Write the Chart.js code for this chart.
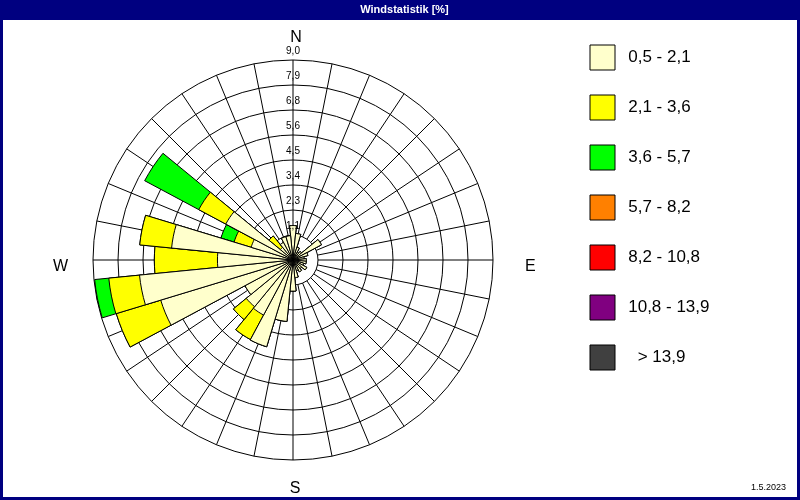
<!DOCTYPE html>
<html lang="de">
  <head>
    <meta charset="utf-8" />
    <title>Windstatistik</title>
    <style>
      body { margin: 0; background: #ffffff; }
      canvas { display: block; }
    </style>
  </head>
  <body>
    <canvas id="windrose" width="800" height="500"></canvas>
    <script src="https://cdn.jsdelivr.net/npm/chart.js"></script>
    <script>
      // 32 Richtungen, im Uhrzeigersinn ab Nord
      const directions = [
        "N", "NzO", "NNO", "NOzN", "NO", "NOzO", "ONO", "OzN",
        "O", "OzS", "OSO", "SOzO", "SO", "SOzS", "SSO", "SzO",
        "S", "SzW", "SSW", "SWzS", "SW", "SWzW", "WSW", "WzS",
        "W", "WzN", "WNW", "NWzW", "NW", "NWzN", "NNW", "NzW",
      ];

      const classLabels = ["0,5 - 2,1", "2,1 - 3,6", "3,6 - 5,7", "5,7 - 8,2", "8,2 - 10,8", "10,8 - 13,9", "  > 13,9"];
      const classColors = ["#ffffcc", "#ffff00", "#00ff00", "#ff8000", "#ff0000", "#800080", "#404040"];

      // Anteil in % je Richtung und Klasse (hoehere Klassen ohne Werte)
      const speed05to21 = [
        1.55, 1.2, 0.6, 0.4, 0.5, 1.45, 0.7, 0.5,
        0.6, 0.6, 0.5, 0.7, 0.5, 0.6, 0.5, 0.8,
        1.4, 2.78, 4.08, 2.81, 2.72, 2.45, 6.22, 6.94,
        3.4, 5.49, 1.97, 3.43, 0.74, 0.9, 1.1, 1.1,
      ];
      const speed21to36 = [
        0, 0, 0, 0, 0, 0, 0, 0,
        0, 0, 0, 0, 0, 0, 0, 0,
        0, 0, 0, 1.25, 0.75, 0, 2.09, 1.39,
        2.84, 1.44, 0.8, 1.38, 0.66, 0, 0, 0,
      ];
      const speed36to57 = [
        0, 0, 0, 0, 0, 0, 0, 0,
        0, 0, 0, 0, 0, 0, 0, 0,
        0, 0, 0, 0, 0, 0, 0, 0.64,
        0, 0, 0.62, 2.76, 0, 0, 0, 0,
      ];

      const ringValues = [1.125, 2.25, 3.375, 4.5, 5.625, 6.75, 7.875, 9];
      const ringLabels = ["1,1", "2,3", "3,4", "4,5", "5,6", "6,8", "7,9", "9,0"];
      const compassLabels = ["N", "E", "S", "W"];
      const dateLabel = "1.5.2023";

      // Sektoren aufeinander stapeln: jede Klasse beginnt am Ende der vorigen
      let series = [speed05to21, speed21to36, speed36to57];
      let running = directions.map(() => 0);
      let datasets = series.map(function (values, k) {
        running = running.map((sum, i) => sum + values[i]);
        return {
          label: classLabels[k],
          data: running.slice(),
          backgroundColor: classColors[k],
          borderColor: "#000000",
          borderWidth: 1,
        };
      });

      let sector = 360 / directions.length;

      // Legende: Breite aus dem laengsten Text, damit sie bei x=565 beginnt
      let legendFont = { family: "'Liberation Sans'", size: 17 };
      let legendTexts = classLabels.map((t) => " " + t);
      let measure = document.createElement("canvas").getContext("2d");
      measure.font = legendFont.size + "px " + legendFont.family;
      let textWidth = Math.max(...legendTexts.map((t) => measure.measureText(t).width));
      let legendWidth = Math.ceil(25 + 25 + legendFont.size / 2 + textWidth) + 2;
      let legendLeft = 565;

      let roseDecor = {
        id: "roseDecor",
        afterLayout(chart) {
          chart.titleBlock.left = 9;
          chart.titleBlock.right = chart.width;
        },
        beforeDraw(chart) {
          let ctx = chart.ctx;
          ctx.save();
          ctx.fillStyle = "#ffffff";
          ctx.fillRect(0, 0, chart.width, chart.height);
          ctx.fillStyle = "#000080";
          ctx.fillRect(0, 0, chart.width, chart.titleBlock.bottom);
          ctx.restore();
        },
        beforeDatasetsDraw(chart) {
          // Strahlen mittig auf jeder Richtung, vom Kalmenkreis bis aussen
          let scale = chart.scales.r;
          let ctx = chart.ctx;
          let r0 = scale.getDistanceFromCenterForValue(ringValues[0]);
          let r1 = scale.getDistanceFromCenterForValue(ringValues[ringValues.length - 1]);
          ctx.save();
          ctx.strokeStyle = "#000000";
          ctx.lineWidth = 1;
          ctx.beginPath();
          directions.forEach(function (d, i) {
            let a = ((i * sector - 90) * Math.PI) / 180;
            ctx.moveTo(scale.xCenter + Math.cos(a) * r0, scale.yCenter + Math.sin(a) * r0);
            ctx.lineTo(scale.xCenter + Math.cos(a) * r1, scale.yCenter + Math.sin(a) * r1);
          });
          ctx.stroke();
          ctx.restore();
        },
        afterDatasetsDraw(chart) {
          let scale = chart.scales.r;
          let ctx = chart.ctx;
          ctx.save();
          ctx.fillStyle = "#000000";
          ctx.font = "10px 'Liberation Sans'";
          ctx.textAlign = "center";
          ctx.textBaseline = "middle";
          ringValues.forEach(function (v, k) {
            let r = scale.getDistanceFromCenterForValue(v);
            ctx.fillText(ringLabels[k], scale.xCenter, scale.yCenter - r - 8.5);
          });
          ctx.restore();
        },
        afterDraw(chart) {
          let scale = chart.scales.r;
          let ctx = chart.ctx;
          let x = scale.xCenter;
          let y = scale.yCenter;
          ctx.save();
          ctx.fillStyle = "#000000";
          ctx.font = "16px 'Liberation Sans'";
          ctx.textBaseline = "alphabetic";
          ctx.textAlign = "center";
          ctx.fillText(compassLabels[0], x + 3, y - 218);
          ctx.fillText(compassLabels[2], x + 2, y + 233);
          ctx.textAlign = "left";
          ctx.fillText(compassLabels[1], x + 232, y + 11);
          ctx.textAlign = "right";
          ctx.fillText(compassLabels[3], x - 225, y + 11);

          ctx.font = "9px 'Liberation Sans'";
          ctx.textAlign = "right";
          ctx.textBaseline = "middle";
          ctx.fillText(dateLabel, chart.width - 14, chart.height - 12);

          ctx.strokeStyle = "#000080";
          ctx.lineWidth = 3;
          ctx.strokeRect(1.5, 1.5, chart.width - 3, chart.height - 3);
          ctx.restore();
        },
      };

      new Chart(document.getElementById("windrose"), {
        type: "polarArea",
        data: {
          labels: directions,
          datasets: datasets,
        },
        options: {
          responsive: false,
          devicePixelRatio: 1,
          animation: false,
          layout: {
            padding: { left: 21, right: 800 - legendLeft - legendWidth, top: 0, bottom: 0 },
          },
          scales: {
            r: {
              startAngle: -sector / 2,
              min: 0,
              // outer ring 9,0 sits at 200px of the 240px drawing area
              max: ringValues[ringValues.length - 1] * 1.2,
              afterBuildTicks: function (scale) {
                scale.ticks = [0].concat(ringValues).map((v) => ({ value: v }));
              },
              ticks: { display: false },
              grid: { color: "#000000", lineWidth: 1, circular: true },
              angleLines: { display: false },
              pointLabels: { display: false },
            },
          },
          plugins: {
            title: {
              display: true,
              text: "Windstatistik [%]",
              color: "#ffffff",
              font: { family: "'Liberation Sans'", size: 11, weight: "bold", lineHeight: 1.2 },
              padding: { top: 3, bottom: 3.8 },
            },
            legend: {
              position: "right",
              align: "start",
              fullSize: false,
              maxWidth: legendWidth,
              onClick: null,
              labels: {
                boxWidth: 25,
                boxHeight: 25,
                padding: 25,
                color: "#000000",
                font: legendFont,
                generateLabels: function () {
                  return legendTexts.map((text, k) => ({
                    text: text,
                    fillStyle: classColors[k],
                    strokeStyle: "#000000",
                    lineWidth: 1,
                    hidden: false,
                    index: k,
                  }));
                },
              },
            },
            tooltip: { enabled: false },
          },
        },
        plugins: [roseDecor],
      });
    </script>
  </body>
</html>
